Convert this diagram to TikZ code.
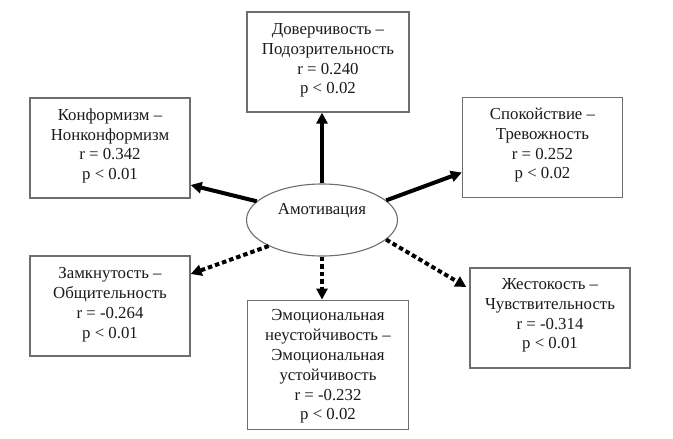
\documentclass[tikz,border=0pt]{standalone}
\usepackage{fontspec}
\setmainfont{Liberation Serif}
\usetikzlibrary{arrows.meta,shapes.geometric,calc}
\definecolor{boxgray}{HTML}{6E6E6E}
\definecolor{txt}{HTML}{1A1A1A}
\begin{document}
\begin{tikzpicture}[x=1pt,y=-1pt,
  box/.style={draw=boxgray,line width=1.3pt,minimum width=160pt,minimum height=100pt,inner sep=0pt},
  lbl/.style={anchor=north,align=center,inner sep=0pt,text=txt,font=\fontsize{16.8}{19.8}\selectfont},
  sol/.style={line width=4pt,-{Triangle[length=11pt,width=11pt]}},
  dotline/.style={sol,dash pattern=on 4.5pt off 3pt}]
\useasboundingbox (0,0) rectangle (673,439);
\fill[white] (0,0) rectangle (673,439);

\node[box,minimum width=162pt] (t) at (328,62) {};
\node[box] (lu) at (110,148) {};
\node[box] (ru) at (542.5,147.5) {};
\node[box] (ll) at (110,306) {};
\node[box] (rl) at (550,318) {};
\node[box,minimum width=161pt,minimum height=129.5pt] (b) at (328,365) {};

\node[lbl] (tt) at ([yshift=-12pt]t.north) {Доверчивость –\\Подозрительность\\r = 0.240\\p < 0.02};
\node[lbl] (lut) at ([yshift=-11pt]lu.north) {Конформизм –\\Нонконформизм\\r = 0.342\\p < 0.01};
\node[lbl] (rut) at ([yshift=-11pt]ru.north) {Спокойствие –\\Тревожность\\r = 0.252\\p < 0.02};
\node[lbl] (llt) at ([yshift=-12pt]ll.north) {Замкнутость –\\Общительность\\r = -0.264\\p < 0.01};
\node[lbl] (rlt) at ([yshift=-11pt]rl.north) {Жестокость –\\Чувствительность\\r = -0.314\\p < 0.01};
\node[lbl] (bt) at ([yshift=-10pt]b.north) {Эмоциональная\\неустойчивость –\\Эмоциональная\\устойчивость\\r = -0.232\\p < 0.02};

\node[ellipse,draw=boxgray,line width=1.1pt,minimum width=151pt,minimum height=72pt,inner sep=0pt] (e) at (322,220) {};
\node[font=\fontsize{16.8}{19.8}\selectfont,text=txt,inner sep=0pt] (et) at (322,211) {Амотивация};

\draw[sol] (e.north) -- (e.north |- t.south);
\draw[sol] (e.164) -- ([yshift=-37pt]lu.east);
\draw[sol] (e.17) -- ([yshift=-25pt]ru.west);
\draw[dotline] (e.206) -- ([yshift=32pt]ll.east);
\draw[dotline] (e.south) -- (e.south |- b.north);
\draw[dotline] (e.343) -- ([yshift=31pt,xshift=-3pt]rl.west);
\end{tikzpicture}
\end{document}
